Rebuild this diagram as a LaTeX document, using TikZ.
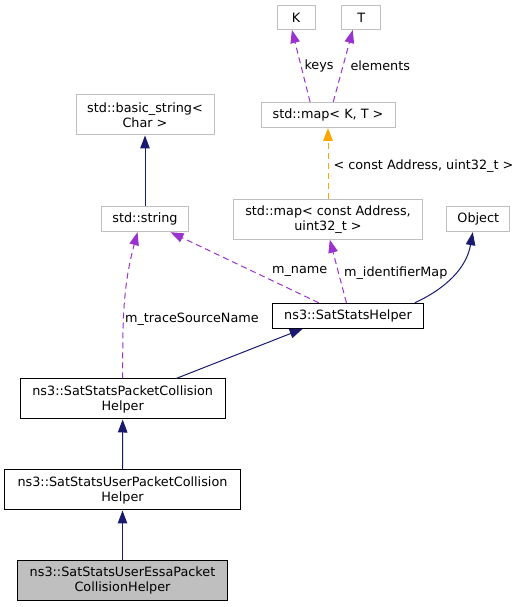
\documentclass[tikz,border=0pt]{standalone}
\usepackage{fontspec}
\setmainfont{DejaVu Sans}
\usetikzlibrary{arrows.meta}
\definecolor{edgeblue}{HTML}{191970}
\definecolor{edgepurple}{HTML}{9A32CD}
\definecolor{edgeorange}{HTML}{FFA500}
\definecolor{boxgray}{HTML}{BFBFBF}

\begin{document}
\begin{tikzpicture}[x=10bp, y=10bp,
  font=\fontsize{12.8bp}{15bp}\selectfont,
  ext/.style={rectangle, draw=boxgray, line width=1bp, align=center, inner sep=0pt},
  cls/.style={rectangle, draw=black, line width=1bp, align=center, inner sep=0pt},
  inh/.style={edgeblue, line width=1bp, -{Triangle[length=13bp, width=9.5bp]}},
  use/.style={edgepurple, line width=1bp, dash pattern=on 6bp off 4bp, -{Triangle[length=13bp, width=9.5bp]}},
  tmpl/.style={edgeorange, line width=1bp, dash pattern=on 6bp off 4bp, -{Triangle[length=13bp, width=9.5bp]}},
  lbl/.style={black, inner sep=1bp}]
  % \draw[help lines] (0,0) grid (52, 60.7);
  \useasboundingbox (0, 0) rectangle (52, 60.7);
  \node at (29.6, 58.95) [ext, minimum width=38bp, minimum height=24bp] (k) {K};
  \node at (36.12, 58.95) [ext, minimum width=39bp, minimum height=24bp] (t) {T};
  \node at (32.8, 49.2) [ext, minimum width=134bp, minimum height=25bp] (mapkt) {std::map< K, T >};
  \node at (14.5, 49.2) [ext, minimum width=138bp, minimum height=40bp] (basicstr) {std::basic\_string<\\Char >};
  \node at (32.8, 38.78) [ext, minimum width=189bp, minimum height=40bp] (mapaddr) {std::map< const Address,\\uint32\_t >};
  \node at (14.5, 38.78) [ext, minimum width=87bp, minimum height=25bp] (str) {std::string};
  \node at (47.83, 38.78) [ext, minimum width=63bp, minimum height=25bp] (obj) {Object};
  \node at (34.8, 29.12) [cls, minimum width=151bp, minimum height=25bp] (helper) {ns3::SatStatsHelper};
  \node at (12.27, 20.8) [cls, minimum width=205bp, minimum height=40bp] (pktcoll) {ns3::SatStatsPacketCollision\\Helper};
  \node at (12.25, 11.7) [cls, minimum width=235bp, minimum height=40bp] (userpkt) {ns3::SatStatsUserPacketCollision\\Helper};
  \node at (12.25, 2.63) [cls, fill=boxgray, minimum width=210bp, minimum height=40bp] (essa) {ns3::SatStatsUserEssaPacket\\CollisionHelper};

  \draw[use] (mapkt.144) -- node[lbl, pos=0.5, right=2bp]{keys} (k.252);
  \draw[use] (mapkt.68) -- node[lbl, pos=0.5, right=6bp]{elements} (t.236);
  \draw[tmpl] (mapaddr) -- node[lbl, pos=0.46, right=4bp]{< const Address, uint32\_t >} (mapkt);
  \draw[inh] (str) -- (basicstr);
  \draw[use] (pktcoll.north) to[out=90, in=-105] node[lbl, pos=0.39, right]{m\_traceSourceName} (str.240);
  \draw[use] (helper.156) -- node[lbl, pos=0.44, right=17bp]{m\_name} (str.333);
  \draw[use] (helper.97) -- node[lbl, pos=0.47, right=4bp]{m\_identifierMap} (mapaddr.-85);
  \draw[inh] (helper.11) to[out=25, in=-100] (obj.247);
  \draw[inh] (pktcoll.21) -- (helper.196);
  \draw[inh] (userpkt) -- (pktcoll);
  \draw[inh] (essa) -- (userpkt);
\end{tikzpicture}
\end{document}
